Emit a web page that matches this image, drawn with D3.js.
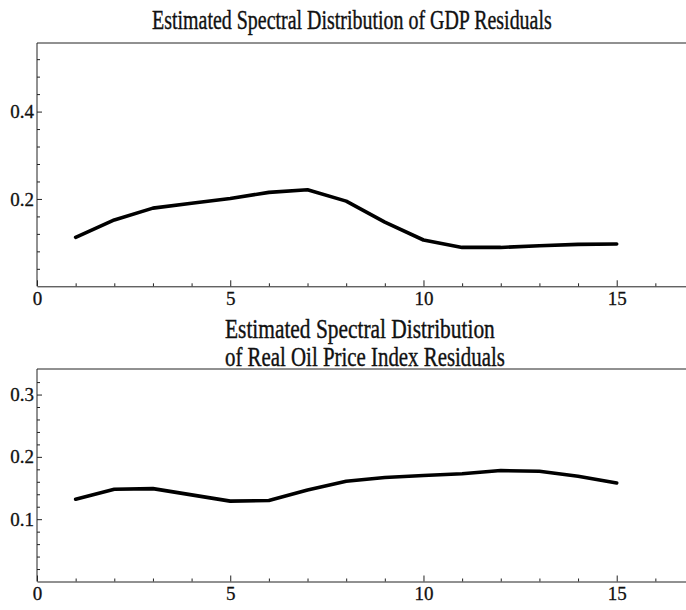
<!DOCTYPE html>
<html>
<head>
<meta charset="utf-8">
<script src="https://cdn.jsdelivr.net/npm/d3@7"></script>
<style>
  body { margin: 0; background: #fff; }
  svg { display: block; }
  .title { font-family: "Liberation Serif", "Times New Roman", serif; font-size: 28px; fill: #111; stroke: #111; stroke-width: 0.4px; }
  .axis path, .axis line { stroke: #222; }
  .frame { stroke: #222; stroke-width: 1; }
  .curve { fill: none; stroke: #000; stroke-width: 3.6; stroke-linejoin: round; stroke-linecap: round; }
</style>
</head>
<body>
<svg id="chart" width="686" height="610"></svg>
<script>
// frequencies along the x axis
var freq = [1, 2, 3, 4, 5, 6, 7, 8, 9, 10, 11, 12, 13, 14, 15];

// estimated spectra
var gdpSpectrum = [0.112, 0.152, 0.179, 0.190, 0.201, 0.215, 0.221, 0.195, 0.147, 0.106, 0.089, 0.089, 0.093, 0.096, 0.097];
var oilSpectrum = [0.132, 0.148, 0.149, 0.139, 0.129, 0.130, 0.147, 0.161, 0.167, 0.170, 0.173, 0.178, 0.177, 0.169, 0.158];

// ticks
var xMajor = [0, 5, 10, 15];
var xMinor = [1, 2, 3, 4, 6, 7, 8, 9, 11, 12, 13, 14, 16];
var gdpMajor = [0.2, 0.4];
var gdpMinor = [0.04, 0.08, 0.12, 0.16, 0.24, 0.28, 0.32, 0.36, 0.44, 0.48, 0.52];
var oilMajor = [0.1, 0.2, 0.3];
var oilMinor = [0.02, 0.04, 0.06, 0.08, 0.12, 0.14, 0.16, 0.18, 0.22, 0.24, 0.26, 0.28, 0.32];

var gdpTitle = ["Estimated Spectral Distribution of GDP Residuals"];
var oilTitle = ["Estimated Spectral Distribution", "of Real Oil Price Index Residuals"];

var svg = d3.select("#chart");

var params = {
  "left": 37,
  "right": 694,
  "gdp": { "top": 43, "bottom": 286.3, "ymax": 0.557 },
  "oil": { "top": 369, "bottom": 581.5, "ymax": 0.341 }
};

var x = d3.scaleLinear().domain([0, 17]).range([params.left, params.right]);

var translate = function(a, b) { return "translate(" + a + "," + b + ")"; };

styleLabels = function(g) {
  g.selectAll("text")
    .attr("font-family", "Liberation Serif, Times New Roman, serif")
    .attr("font-size", 19)
    .style("font-family", "'Liberation Serif', 'Times New Roman', serif")
    .style("font-size", "19px")
    .style("fill", "#111")
    .style("stroke", "#111")
    .style("stroke-width", "0.3px");
}

drawPanel = function(p, values, major, minor) {
  let y = d3.scaleLinear().domain([0, p.ymax]).range([p.bottom, p.top]);

  // frame: top line
  svg.append("line")
    .attr("class", "frame")
    .attr("x1", params.left).attr("x2", params.right)
    .attr("y1", p.top).attr("y2", p.top);

  // x axis, ticks point inward
  let gxMinor = svg.append("g").attr("class", "axis")
    .attr("transform", translate(0, p.bottom))
    .call(d3.axisBottom(x).tickValues(xMinor).tickSize(-3).tickSizeOuter(0).tickFormat(""));
  gxMinor.select(".domain").remove();

  let gx = svg.append("g").attr("class", "axis")
    .attr("transform", translate(0, p.bottom))
    .call(d3.axisBottom(x).tickValues(xMajor).tickSize(-6).tickSizeOuter(0).tickPadding(5).tickFormat(d3.format("d")));
  styleLabels(gx);

  // y axis
  let gyMinor = svg.append("g").attr("class", "axis")
    .attr("transform", translate(params.left, 0))
    .call(d3.axisLeft(y).tickValues(minor).tickSize(-3).tickSizeOuter(0).tickFormat(""));
  gyMinor.select(".domain").remove();

  let gy = svg.append("g").attr("class", "axis")
    .attr("transform", translate(params.left, 0))
    .call(d3.axisLeft(y).tickValues(major).tickSize(-5).tickSizeOuter(0).tickPadding(3).tickFormat(d3.format(".1f")));
  gy.select(".domain").attr("d", "M0," + p.top + "V" + p.bottom);
  styleLabels(gy);

  // the spectrum
  let line = d3.line()
    .x(function(d, i) { return x(freq[i]); })
    .y(function(d) { return y(d); });

  svg.append("path")
    .datum(values)
    .attr("class", "curve")
    .attr("d", line);
}

// a title squeezed horizontally to the width it has in the original
addTitle = function(str, x0, y0, width) {
  let t = svg.append("text").attr("class", "title").text(str);
  let natural = t.node().getComputedTextLength();
  t.attr("transform", translate(x0, y0) + " scale(" + (width / natural) + ",1)");
}

drawPanel(params.gdp, gdpSpectrum, gdpMajor, gdpMinor);
drawPanel(params.oil, oilSpectrum, oilMajor, oilMinor);

addTitle(gdpTitle[0], 152, 29, 400);
addTitle(oilTitle[0], 225, 338, 270);
addTitle(oilTitle[1], 225, 366, 280);
</script>
</body>
</html>
